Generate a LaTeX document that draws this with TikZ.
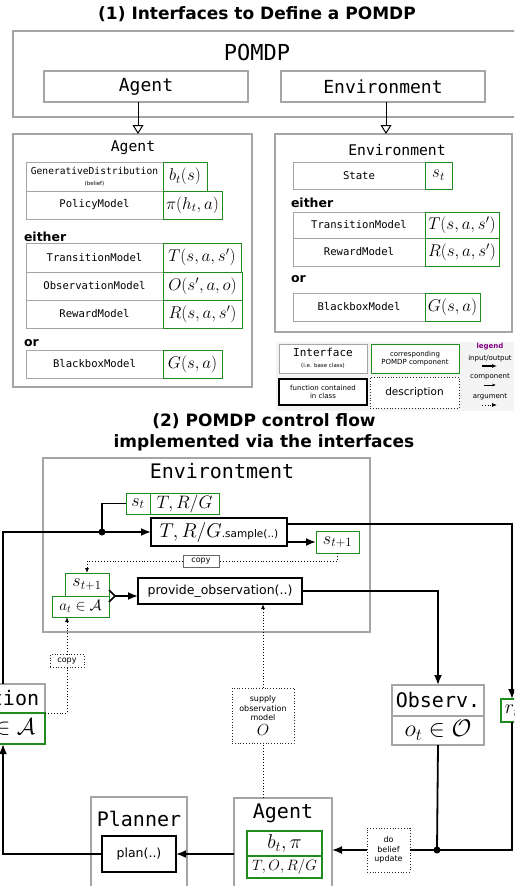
\RequirePackage{fix-cm}
\documentclass[tikz,border=0pt]{standalone}
\usepackage{amsmath}
\usepackage[no-math]{fontspec}
\setmainfont{DejaVu Sans}
\setmonofont{DejaVu Sans Mono}
\usetikzlibrary{arrows.meta}

\definecolor{boxgray}{RGB}{165,165,165}
\definecolor{compgreen}{RGB}{30,140,30}
\definecolor{legendpurple}{RGB}{128,0,128}
\definecolor{legendbg}{RGB}{244,244,244}
\newcommand{\fsz}[2]{\fontsize{#1}{#2}\selectfont}

\begin{document}
\begin{tikzpicture}[x=1pt,y=-1pt,
  every node/.style={inner sep=0pt,outer sep=0pt},
  iface/.style={draw=boxgray,line width=1.2pt,fill=white,anchor=north west},
  ifacebig/.style={draw=boxgray,line width=2pt,fill=white,anchor=north west,font=\ttfamily\fsz{20}{24}},
  cell/.style={draw=boxgray,line width=0.8pt,fill=white,anchor=north west,align=center,font=\ttfamily\fsz{10.6}{12}},
  comp/.style={draw=compgreen,line width=0.9pt,fill=white,anchor=north west,font=\fsz{17}{20}},
  func/.style={draw=black,line width=1.8pt,fill=white,anchor=north west,align=center},
  desc/.style={draw=black!85,dotted,line width=0.8pt,fill=white,align=center,anchor=north west,font=\fsz{8}{9.5}},
  heading/.style={font=\bfseries\fsz{17}{21},align=center},
  either/.style={font=\bfseries\fsz{12.5}{14},anchor=west},
  flow/.style={line width=1.8pt,-{Latex[length=10pt,width=8pt]}},
  line/.style={line width=1.8pt},
  arg/.style={dotted,line width=0.9pt,-{Latex[length=5pt,width=4pt]}},
  inherit/.style={line width=1pt,-{Triangle[open,length=9pt,width=11pt]}},
]
  \useasboundingbox (0,0) rectangle (514,886);
  \clip (0,0) rectangle (514,886);

  % (1) interfaces
  \node[heading] (title1) at (257,14) {(1) Interfaces to Define a POMDP};
  \node[iface,minimum width=510,minimum height=86] (pomdp) at (13,31) {};
  \node[font=\ttfamily\fsz{22}{24}] (pomdplbl) at (257,52) {POMDP};
  \node[iface,minimum width=204,minimum height=31,font=\ttfamily\fsz{18}{20}] (agentif) at (44,71) {Agent};
  \node[iface,minimum width=204,minimum height=31,font=\ttfamily\fsz{18}{20}] (envif) at (281,71) {Environment};

  % agent class
  \node[iface,minimum width=239,minimum height=253] (agentcls) at (13,134) {};
  \node[font=\ttfamily\fsz{14.7}{16}] (agentclslbl) at (133,148) {Agent};
  \node[cell,minimum width=137,minimum height=29] (gendist) at (26,162)
    {{\fsz{9.6}{10}GenerativeDistribution}\\[-1pt]{\normalfont\fsz{5.5}{6}(belief)}};
  \node[comp,minimum width=44,minimum height=29] (belief) at (163,162) {$b_t(s)$};
  \node[cell,minimum width=137,minimum height=28] (policy) at (26,191) {PolicyModel};
  \node[comp,minimum width=59,minimum height=28] (pi) at (163,191) {$\pi(h_t,a)$};
  \node[either] (either1) at (24,237) {either};
  \node[cell,minimum width=137,minimum height=29] (transA) at (26,243) {TransitionModel};
  \node[comp,minimum width=78,minimum height=29] (TA) at (163,243) {$T(s,a,s')$};
  \node[cell,minimum width=137,minimum height=28] (obsA) at (26,272) {ObservationModel};
  \node[comp,minimum width=79,minimum height=28] (OA) at (163,272) {$O(s',a,o)$};
  \node[cell,minimum width=137,minimum height=28] (rewA) at (26,300) {RewardModel};
  \node[comp,minimum width=79,minimum height=28] (RA) at (163,300) {$R(s,a,s')$};
  \node[either] (or1) at (24,343) {or};
  \node[cell,minimum width=137,minimum height=28] (bbA) at (26,350) {BlackboxModel};
  \node[comp,minimum width=59,minimum height=28] (GA) at (163,350) {$G(s,a)$};

  % environment class
  \node[iface,minimum width=237,minimum height=198] (envcls) at (275,134) {};
  \node[font=\ttfamily\fsz{14.7}{16}] (envclslbl) at (397,150) {Environment};
  \node[cell,minimum width=132,minimum height=27] (state) at (293,162) {State};
  \node[comp,minimum width=27,minimum height=27] (stE) at (425,162) {$s_t$};
  \node[either] (either2) at (291,203) {either};
  \node[cell,minimum width=132,minimum height=26] (transE) at (293,212) {TransitionModel};
  \node[comp,minimum width=74,minimum height=26] (TE) at (425,212) {$T(s,a,s')$};
  \node[cell,minimum width=132,minimum height=28] (rewE) at (293,238) {RewardModel};
  \node[comp,minimum width=74,minimum height=28] (RE) at (425,238) {$R(s,a,s')$};
  \node[either] (or2) at (291,279) {or};
  \node[cell,minimum width=132,minimum height=28] (bbE) at (293,293) {BlackboxModel};
  \node[comp,minimum width=55,minimum height=28] (GE) at (425,293) {$G(s,a)$};

  \draw[inherit] ([xshift=-8pt]agentif.south) -- ([xshift=-8pt]agentif.south |- agentcls.north);
  \draw[inherit] ([xshift=3pt]envif.south) -- ([xshift=3pt]envif.south |- envcls.north);

  % legend
  \node[fill=legendbg,minimum width=240,minimum height=69,anchor=north west] (legendbox) at (276,342) {};
  \node[iface,line width=1pt,minimum width=88,minimum height=29,align=center] (lgiface) at (279,344)
    {{\ttfamily\fsz{11}{12}Interface}\\[-1pt]{\fsz{5.5}{6}(i.e. base class)}};
  \node[comp,minimum width=88,minimum height=29,align=center,font=\fsz{7}{8.5}] (lgcomp) at (371,344)
    {corresponding\\POMDP component};
  \node[func,line width=1.3pt,minimum width=88,minimum height=26,font=\fsz{7}{8.5}] (lgfunc) at (279,379)
    {function contained\\in class};
  \node[desc,minimum width=89,minimum height=31,font=\fsz{10.5}{12}] (lgdesc) at (370,377) {description};
  \node[font=\bfseries\fsz{7}{8},text=legendpurple] (lgtitle) at (490,347) {legend};
  \node[font=\fsz{7}{8}] (lgio) at (490,359) {input/output};
  \node[font=\fsz{7}{8}] (lgcm) at (490,377) {component};
  \node[font=\fsz{7}{8}] (lgarg) at (490,397) {argument};
  \coordinate (lgioa) at (482,366);
  \coordinate (lgiob) at (497,366);
  \coordinate (lgcma) at (484,385);
  \coordinate (lgcmb) at (496,385);
  \coordinate (lgarga) at (482,405);
  \coordinate (lgargb) at (497,405);
  \draw[line width=1.2pt,-{Latex[length=5pt,width=4pt]}] (lgioa) -- (lgiob);
  \draw[line width=0.8pt,-{Latex[length=3.5pt,width=3pt]}] (lgcma) -- (lgcmb);
  \draw[dotted,line width=0.8pt,-{Latex[length=5pt,width=4pt]}] (lgarga) -- (lgargb);

  % (2) control flow
  \node[heading] (title2) at (264,432) {(2) POMDP control flow\\implemented via the interfaces};
  \node[ifacebig,minimum width=327,minimum height=174] (envbox) at (43,458) {};
  \node[font=\ttfamily\fsz{20}{24}] (envboxlbl) at (222,471) {Environtment};
  \node[comp,minimum width=24,minimum height=21,font=\fsz{18}{20}] (st) at (126,493) {$s_t$};
  \node[comp,minimum width=69,minimum height=21,font=\fsz{18}{20}] (trg) at (150,493) {$T,R/G$};
  \node[func,minimum width=136,minimum height=28] (sample) at (151,518)
    {\fsz{20}{22}$T,R/G$\fsz{10.5}{12}.sample(..)};
  \node[comp,minimum width=43,minimum height=22,font=\fsz{18}{20}] (stp1) at (316,531) {$s_{t+1}$};
  \node[comp,minimum width=44,minimum height=23,font=\fsz{18}{20}] (stp1b) at (65,573) {$s_{t+1}$};
  \node[comp,minimum width=57,minimum height=21,font=\fsz{15}{17}] (at) at (52,596) {$a_t\in\mathcal{A}$};
  \node[func,minimum width=164,minimum height=26,font=\fsz{12.5}{14}] (provide) at (138,578) {provide\_observation(..)};

  \node[ifacebig,minimum width=92,minimum height=31] (obs) at (392,685) {Observ.};
  \node[ifacebig,minimum width=92,minimum height=29,font=\fsz{24}{26}] (obsval) at (392,716) {$o_t\in\mathcal{O}$};
  \node[ifacebig,minimum width=84,minimum height=29] (act) at (-39,684) {Action};
  \node[comp,line width=1.6pt,minimum width=84,minimum height=31,font=\fsz{23}{25}] (atval) at (-39,713) {$a_t\in\mathcal{A}$};
  \node[comp,line width=1.3pt,minimum width=22,minimum height=23,font=\fsz{20}{22}] (rt) at (501,699) {$r_t$};

  \node[ifacebig,minimum width=96,minimum height=100] (planner) at (91,797) {};
  \node[font=\ttfamily\fsz{20}{24}] (plannerlbl) at (139,819) {Planner};
  \node[func,minimum width=74,minimum height=36,font=\fsz{12.5}{14}] (plan) at (102,836) {plan(..)};
  \node[ifacebig,minimum width=98,minimum height=100] (agentbox) at (234,798) {};
  \node[font=\ttfamily\fsz{20}{24}] (agentboxlbl) at (283,813) {Agent};
  \node[comp,line width=1.5pt,minimum width=75,minimum height=25,font=\fsz{20}{22}] (bpi) at (247,831) {$b_t,\pi$};
  \node[comp,line width=1.5pt,minimum width=75,minimum height=22,font=\fsz{15}{17}] (tog) at (247,856) {$T,O,R/G$};

  % descriptions
  \node[draw=black!60,line width=0.6pt,fill=white,font=\fsz{8}{9},minimum width=36,minimum height=12] (copy1) at (201,561) {copy};
  \node[desc,anchor=center,minimum width=34,minimum height=13] (copy2) at (67,661) {copy};
  \node[desc,minimum width=62,minimum height=55] (supply) at (232,688)
    {supply\\observation\\model\\[3pt]{\fsz{16}{16}$O$}};
  \node[desc,minimum width=43,minimum height=44] (update) at (367,828) {do\\belief\\update};

  \coordinate (split) at (102,532);
  \coordinate (rtc) at (512,524);
  \coordinate (bj) at (437,850);
  \coordinate (jtop) at (109,590);
  \coordinate (join) at (115,596);
  \coordinate (jbot) at (109,602);

  \draw[flow] (act.north) |- (sample.west);
  \draw[line] (split) |- (st.west);
  \fill (split) circle (3.5pt);
  \draw[flow] (sample.east |- stp1.west) -- (stp1.west);
  \draw[flow] (sample.east |- rtc) -| (rt.north);
  \draw[line] (rt.south) |- (bj);
  \draw[line] (obsval.south) -- (bj);
  \fill (bj) circle (3.5pt);
  \draw[line] (bj) -- (update.east);
  \draw[flow] (update.west) -- (agentbox.east |- bj);
  \draw[flow] (provide.east) -| (obs.north);
  \draw[line width=1.5pt] (jtop) -- (join) -- (jbot);
  \draw[flow] (join) -- (provide.west |- join);
  \draw[flow] (agentbox.west |- plan.east) -- (plan.east);
  \draw[flow] (plan.west) -| (atval.south);

  \draw[arg,-] (stp1.south) |- (copy1.east);
  \draw[arg] (copy1.west) -| (stp1b.north);
  \draw[arg,-] (act.south east) -| (copy2.south);
  \draw[arg] (copy2.north) -- (copy2.north |- at.south);
  \draw[arg,-] (agentbox.north -| supply.south) -- (supply.south);
  \draw[arg] (supply.north) -- (supply.north |- provide.south);
\end{tikzpicture}
\end{document}
